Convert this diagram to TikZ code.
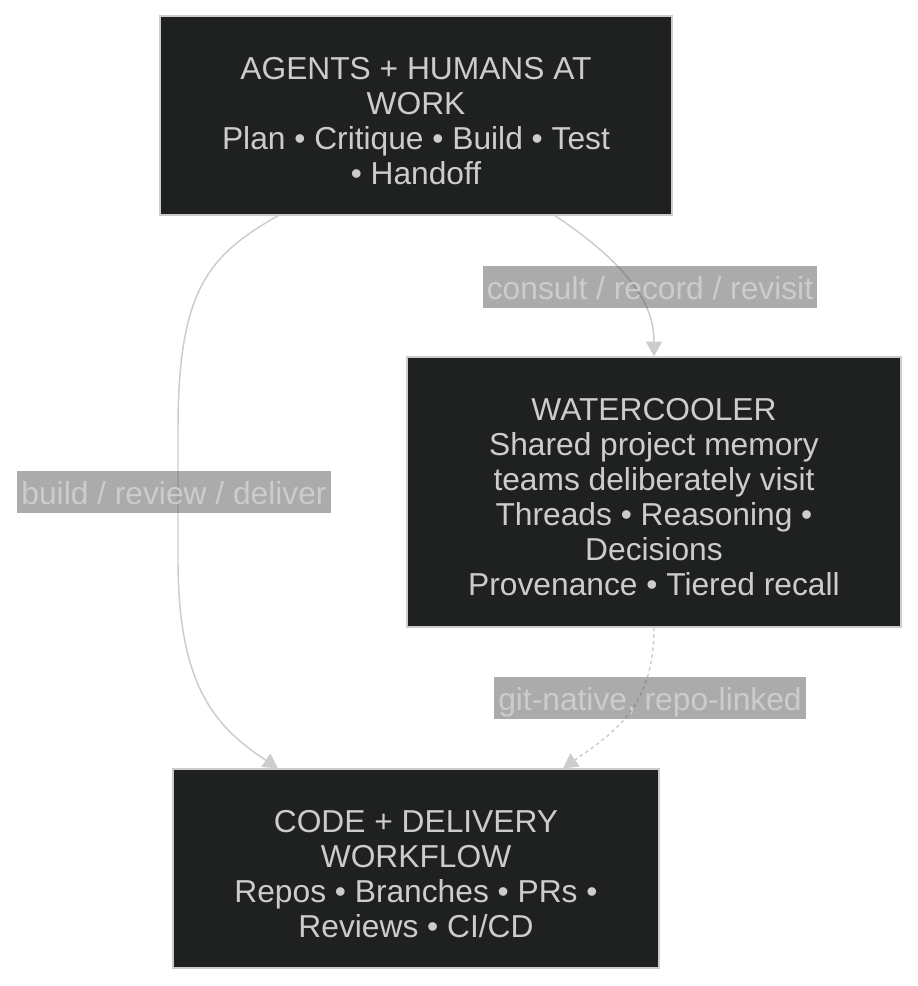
\documentclass[tikz,border=0pt]{standalone}
\usepackage{fontspec}
\setmainfont{Liberation Sans}
\usetikzlibrary{calc,positioning,arrows.meta}
\definecolor{boxfill}{HTML}{1F2020}
\definecolor{lightline}{HTML}{CCCCCC}
\definecolor{labelfill}{RGB}{88,88,88}
\newcommand{\topgap}{\rule{0pt}{24.8pt}}

\begin{document}
\begin{tikzpicture}[x=0.75pt, y=-0.75pt,
  block/.style={draw=lightline, line width=1pt, fill=boxfill, text=lightline, align=center,
    font=\fontsize{23.8}{26.25}\selectfont, inner sep=0pt},
  elabel/.style={fill=labelfill, fill opacity=0.5, text opacity=1, text=lightline,
    font=\fontsize{23.8}{26.25}\selectfont, inner xsep=3pt, inner ysep=4.75pt,
    text height=20.1pt, text depth=1.9pt},
  link/.style={draw=lightline, line width=1.1pt, -{Triangle[length=11pt,width=12pt]}}]
\useasboundingbox (0,0) rectangle (918,986);

% boxes
\node[block, minimum width=384pt, minimum height=149.25pt] (agents) at (416,115.5)
  {\topgap AGENTS + HUMANS AT\\WORK\\Plan • Critique • Build • Test\\• Handoff};
\node[block, minimum width=370.5pt, minimum height=202.5pt] (cooler) at (654,492)
  {\topgap WATERCOOLER\\Shared project memory\\teams deliberately visit\\Threads • Reasoning •\\Decisions\\Provenance • Tiered recall};
\node[block, minimum width=364.5pt, minimum height=149.25pt] (delivery) at (416,868.5)
  {\topgap CODE + DELIVERY\\WORKFLOW\\Repos • Branches • PRs •\\Reviews • CI/CD};

% links
\draw[link] ($(agents.south)+(-138,0)$) .. controls +(-70,40) and +(0,-140) .. (178,430)
  -- (178,560) .. controls +(0,130) and +(-60,-40) .. ($(delivery.north)+(-138,0)$);
\draw[link] ($(agents.south)+(139,0)$) .. controls +(90,60) and +(0,-40) .. (cooler.north);
\draw[link, dash pattern=on 2.5pt off 2.5pt] (cooler.south) .. controls +(0,80) and +(50,-35) .. ($(delivery.north)+(147,0)$);

% labels
\node[elabel] (lbuild) at (174,492) {build / review / deliver};
\node[elabel] (lconsult) at (650,287) {consult / record / revisit};
\node[elabel] (lgit) at (650,698) {git-native, repo-linked};
\end{tikzpicture}
\end{document}
